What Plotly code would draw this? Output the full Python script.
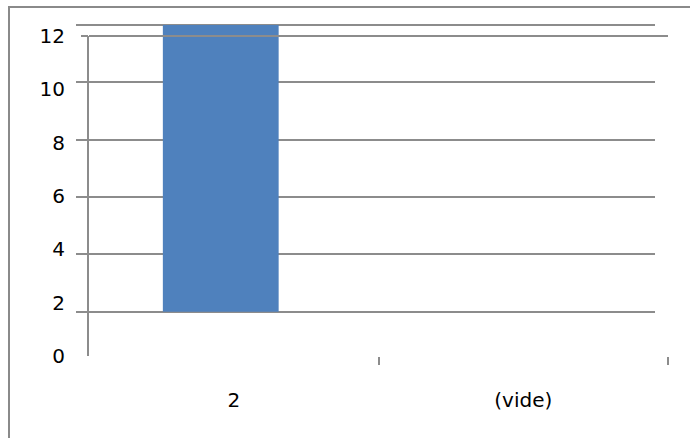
import plotly.graph_objects as go

# ---- data ----
categories = ["2", "(vide)"]
values = [12, None]
bar_base = 2
y_ticks = [0, 2, 4, 6, 8, 10, 12]
grid_vals = [2, 4, 6, 8, 10, 12]

W, H = 690, 438
GRID = "#8c8c8c"
BAR = "#4F81BD"
FONT = dict(family="DejaVu Sans, sans-serif", size=20, color="#000000")

def px_x(a, b):
    return [a / W, b / W]

def px_y(top, bottom):
    return [1 - bottom / H, 1 - top / H]

heights = [None if v is None else v - bar_base for v in values]

common = dict(automargin=False, zeroline=False)

# data layer: 0 at y=369 px, 28.67 px per unit, range a little above 12
Y_TOP = 12.2
data_dom = px_y(369 - 28.67 * Y_TOP, 369)
# frame layer: 0 at y=356 px, 12 at y=36 px
frame_scale = (356 - 36) / 12
frame_dom = px_y(356 - frame_scale * Y_TOP, 356)

fig = go.Figure()
fig.add_trace(go.Scatter(x=categories, y=[0, 0], mode="markers",
                         marker=dict(opacity=0, size=1),
                         xaxis="x2", yaxis="y2", showlegend=False, hoverinfo="skip"))
fig.add_trace(go.Scatter(x=[0.5, 1.5], y=[0, 0], mode="markers",
                         marker=dict(opacity=0, size=1),
                         xaxis="x3", yaxis="y3", showlegend=False, hoverinfo="skip"))
fig.add_trace(go.Bar(x=categories, y=heights, base=bar_base, width=0.4,
                     marker=dict(color=BAR, line=dict(width=0)),
                     xaxis="x", yaxis="y", showlegend=False, hoverinfo="skip"))

fig.update_layout(
    template="none",
    width=W, height=H, autosize=False,
    margin=dict(l=0, r=0, t=0, b=0, pad=0, autoexpand=False),
    paper_bgcolor="white", plot_bgcolor="rgba(0,0,0,0)",
    font=FONT, showlegend=False,
    xaxis=dict(domain=px_x(76, 655), anchor="y", type="category",
               categoryarray=categories, range=[-0.5, 1.5],
               showticklabels=False, showgrid=False,
               showline=False, ticks="", **common),
    yaxis=dict(domain=data_dom, anchor="x", range=[0, Y_TOP],
               tickvals=grid_vals, showticklabels=False, showgrid=True,
               gridcolor=GRID, gridwidth=2, showline=False,
               ticks="", **common),
    xaxis2=dict(domain=px_x(89, 668), anchor="y2",
                type="category", categoryarray=categories, range=[-0.5, 1.5],
                showgrid=False, showline=False, ticks="",
                ticklabelstandoff=30, tickfont=FONT, **common),
    yaxis2=dict(domain=px_y(36, 356), anchor="x2",
                range=[0, 12], tickvals=y_ticks, showgrid=False,
                showline=True, linecolor=GRID, linewidth=2,
                ticks="", ticklabelstandoff=18, tickfont=FONT, **common),
    xaxis3=dict(domain=px_x(89, 668), anchor="y3", type="linear",
                range=[-0.5, 1.5], tickvals=[0.5, 1.5],
                showgrid=False, showline=False, showticklabels=False,
                ticks="outside", ticklen=8, tickcolor=GRID, tickwidth=2,
                **common),
    yaxis3=dict(domain=frame_dom, anchor="x3",
                range=[0, Y_TOP], tickvals=[12], showgrid=True, gridcolor=GRID,
                gridwidth=2, showline=False,
                ticks="outside", ticklen=7, tickcolor=GRID, tickwidth=2,
                showticklabels=False, **common),
    shapes=[dict(type="rect", xref="paper", yref="paper",
                 x0=9 / W, x1=1.05, y0=-0.05, y1=1 - 7 / H,
                 line=dict(color="#8a8a8a", width=2), fillcolor="rgba(0,0,0,0)",
                 layer="below")],
)

fig.write_html("out.html")
